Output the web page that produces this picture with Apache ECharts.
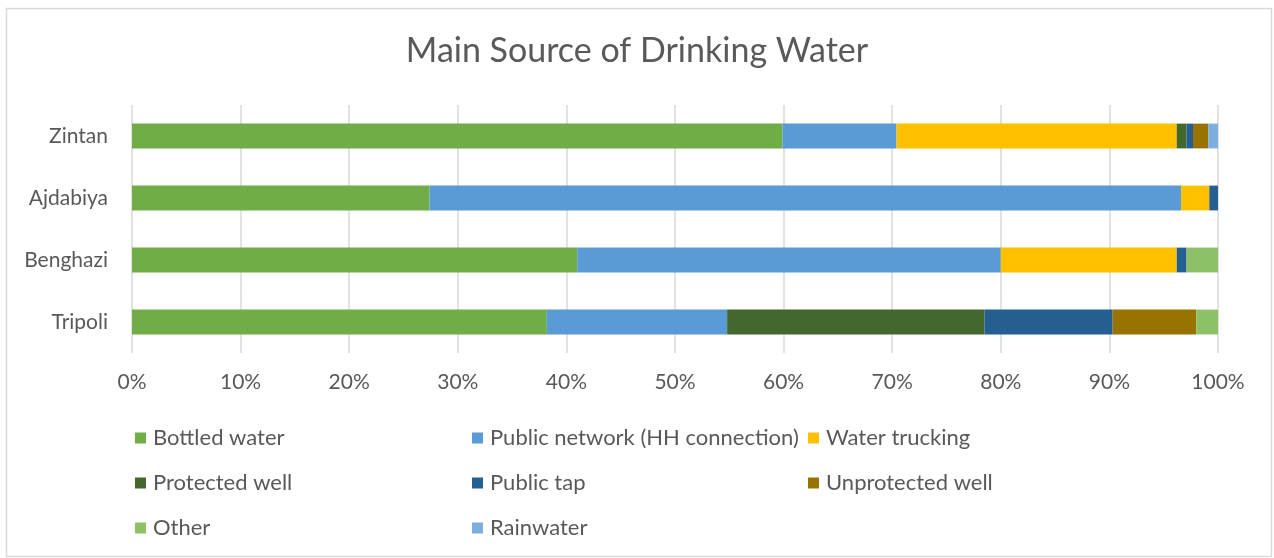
<!DOCTYPE html>
<html>
<head>
<meta charset="utf-8">
<script src="https://cdn.jsdelivr.net/npm/echarts@6/dist/echarts.min.js"></script>
<style>
  html, body { margin: 0; padding: 0; background: #fff; }
  #chart { width: 1274px; height: 558px; }
</style>
</head>
<body>
<div id="chart"></div>
<script>
// Cities, listed bottom to top along the category axis
const cities = ['Tripoli', 'Benghazi', 'Ajdabiya', 'Zintan'];

// Share of households (%) by main source of drinking water
const bottledWater    = [38.2, 41.0, 27.4, 59.9];
const publicNetwork   = [16.6, 39.0, 69.2, 10.5];
const waterTrucking   = [0,    16.2, 2.6,  25.8];
const protectedWell   = [23.7, 0,    0,    0.9];
const publicTap       = [11.8, 0.9,  0.8,  0.6];
const unprotectedWell = [7.7,  0,    0,    1.4];
const other           = [2.0,  2.9,  0,    0];
const rainwater       = [0,    0,    0,    0.9];

const xTicks = ['0%', '10%', '20%', '30%', '40%', '50%', '60%', '70%', '80%', '90%', '100%'];

const seriesDefs = [
  ['Bottled water', bottledWater, '#70AD47'],
  ['Public network (HH connection)', publicNetwork, '#5B9BD5'],
  ['Water trucking', waterTrucking, '#FFC000'],
  ['Protected well', protectedWell, '#43682B'],
  ['Public tap', publicTap, '#255E91'],
  ['Unprotected well', unprotectedWell, '#997300'],
  ['Other', other, '#8CC168'],
  ['Rainwater', rainwater, '#7CAFDD']
];

// Legend grid: three columns, three rows (left edge of swatch, row centre)
const legendCols = [135, 472, 808];
const legendRows = [437, 482, 527];

const FONT = 'Lato';
const TEXT = '#595959';

const chart = echarts.init(document.getElementById('chart'), null, { renderer: 'canvas' });

const legends = seriesDefs.map(([name], i) => ({
  left: legendCols[i % 3] - 5,
  top: legendRows[Math.floor(i / 3)] - 15,
  data: [name],
  itemWidth: 11,
  itemHeight: 11,
  icon: 'rect',
  selectedMode: false,
  textStyle: { color: TEXT, fontSize: 22, fontFamily: FONT, padding: [0, 0, 0, 2] }
}));

chart.setOption({
  animation: false,
  backgroundColor: '#fff',
  graphic: [{
    type: 'rect',
    left: 4, top: 6,
    shape: { width: 1265, height: 548 },
    style: { fill: 'none', stroke: '#d9d9d9', lineWidth: 1.5 },
    silent: true
  }],
  title: {
    text: 'Main Source of Drinking Water',
    left: 'center',
    top: 29,
    textStyle: { color: TEXT, fontSize: 34, fontWeight: 'normal', fontFamily: FONT }
  },
  legend: legends,
  grid: { left: 132, right: 56, top: 105, bottom: 205, containLabel: false },
  xAxis: {
    type: 'value',
    min: 0, max: 100, interval: 10,
    axisLine: { show: false },
    axisTick: { show: false },
    splitLine: { lineStyle: { color: '#d9d9d9', width: 1.5 } },
    axisLabel: {
      color: TEXT, fontSize: 21, fontFamily: FONT, margin: 19,
      formatter: v => xTicks[Math.round(v / 10)]
    }
  },
  yAxis: {
    type: 'category',
    data: cities,
    axisLine: { show: false },
    axisTick: { show: false },
    axisLabel: { color: TEXT, fontSize: 21, fontFamily: FONT, margin: 24 }
  },
  series: seriesDefs.map(([name, data, color]) => ({
    name, type: 'bar', stack: 'total', data,
    barWidth: '40%',
    itemStyle: { color },
    emphasis: { disabled: true }
  }))
});
</script>
</body>
</html>
